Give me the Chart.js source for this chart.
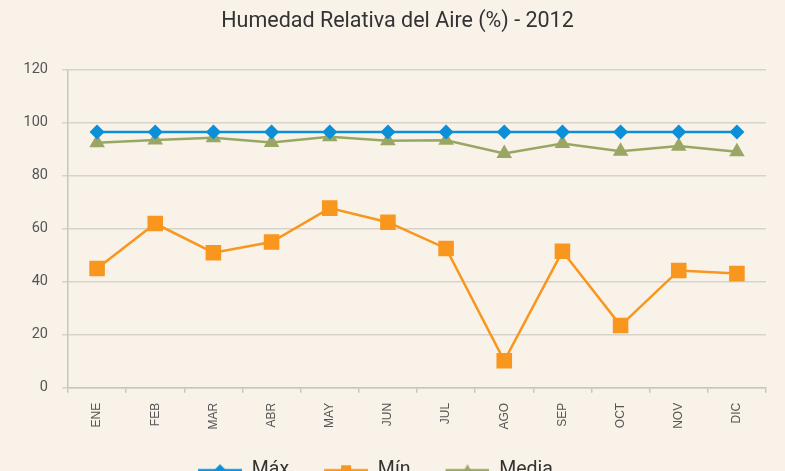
<!DOCTYPE html>
<html>
<head>
<meta charset="utf-8">
<script src="https://cdn.jsdelivr.net/npm/chart.js@4"></script>
<style>
  html, body { margin: 0; padding: 0; background: #f9f2e8; overflow: hidden; }
  #wrap { width: 785px; height: 490px; }
</style>
</head>
<body>
<div id="wrap"><canvas id="humedadChart"></canvas></div>
<script>
const meses = ["ENE", "FEB", "MAR", "ABR", "MAY", "JUN", "JUL", "AGO", "SEP", "OCT", "NOV", "DIC"];

const maxima = [96.5, 96.5, 96.5, 96.5, 96.5, 96.5, 96.5, 96.5, 96.5, 96.5, 96.5, 96.5];
const minima = [45, 62, 51, 55, 67.8, 62.5, 52.6, 10.2, 51.5, 23.5, 44.3, 43.1];
const media = [92.5, 93.5, 94.4, 92.6, 94.7, 93.2, 93.4, 88.4, 92.2, 89.3, 91.2, 89.1];

const azul = "#0a8fd8";
const naranja = "#f8961e";
const verde = "#9aa663";

// little "line + marker" pictures for the legend (transparent strip on the left = gap between items)
function legendIcon(color, style) {
    const c = document.createElement("canvas");
    c.width = 58;
    c.height = 16;
    const ctx = c.getContext("2d");
    ctx.strokeStyle = color;
    ctx.lineWidth = 2.5;
    ctx.beginPath();
    ctx.moveTo(14, 8);
    ctx.lineTo(58, 8);
    ctx.stroke();
    ctx.fillStyle = color;
    ctx.beginPath();
    if (style === "rectRot") {
        ctx.moveTo(36, 2); ctx.lineTo(42, 8); ctx.lineTo(36, 14); ctx.lineTo(30, 8);
    } else if (style === "rect") {
        ctx.rect(31, 3, 10, 10);
    } else {
        ctx.moveTo(36, 2); ctx.lineTo(42, 13); ctx.lineTo(30, 13);
    }
    ctx.closePath();
    ctx.fill();
    return c;
}

const icons = [
    legendIcon(azul, "rectRot"),
    legendIcon(naranja, "rect"),
    legendIcon(verde, "triangle")
];

// in the original the title sits a bit right, the legend a bit left
const nudgeBoxes = {
    id: "nudgeBoxes",
    afterLayout(chart) {
        chart.titleBlock.left += 9;
        chart.titleBlock.right += 9;
        chart.legend.left -= 20;
        chart.legend.right -= 20;
    }
};

const ctx = document.getElementById("humedadChart").getContext("2d");

new Chart(ctx, {
    type: "line",
    data: {
        labels: meses,
        datasets: [
            {
                label: "Máx",
                data: maxima,
                borderColor: azul,
                backgroundColor: azul,
                borderWidth: 2.5,
                pointStyle: "rectRot",
                pointRadius: 7.5,
                pointHoverRadius: 7.5,
                pointBorderWidth: 0
            },
            {
                label: "Mín",
                data: minima,
                borderColor: naranja,
                backgroundColor: naranja,
                borderWidth: 2.5,
                pointStyle: "rect",
                pointRadius: 11,
                pointHoverRadius: 11,
                pointBorderWidth: 0
            },
            {
                label: "Media",
                data: media,
                borderColor: verde,
                backgroundColor: verde,
                borderWidth: 2.5,
                pointStyle: "triangle",
                pointRadius: 9,
                pointHoverRadius: 9,
                pointBorderWidth: 0
            }
        ]
    },
    options: {
        responsive: true,
        maintainAspectRatio: false,
        animation: false,
        layout: {
            padding: { left: 11, right: 19, top: 0, bottom: 0 }
        },
        plugins: {
            title: {
                display: true,
                text: "Humedad Relativa del Aire (%) - 2012",
                color: "#333333",
                font: { family: "Roboto", size: 21.5, weight: "normal" },
                padding: { top: 9, bottom: 35 }
            },
            legend: {
                position: "bottom",
                labels: {
                    usePointStyle: true,
                    pointStyleWidth: 58,
                    color: "#333333",
                    font: { family: "Roboto", size: 19.5 },
                    padding: 21,
                    generateLabels: (chart) => {
                        const items = Chart.defaults.plugins.legend.labels.generateLabels(chart);
                        items.forEach((item, i) => { item.pointStyle = icons[i]; });
                        return items;
                    }
                }
            },
            tooltip: { enabled: false }
        },
        scales: {
            x: {
                offset: true,
                border: { color: "#c9c6c1", width: 1.5 },
                grid: {
                    offset: true,
                    drawOnChartArea: false,
                    drawTicks: true,
                    tickLength: 5,
                    color: "#c9c6c1",
                    lineWidth: 1.5
                },
                ticks: {
                    minRotation: 90,
                    maxRotation: 90,
                    padding: 10,
                    color: "#555555",
                    font: { family: "Liberation Sans", size: 12 }
                }
            },
            y: {
                min: 0,
                max: 120,
                border: { color: "#c9c6c1", width: 1.5 },
                grid: {
                    color: "#d6d2cc",
                    lineWidth: 1.5,
                    tickLength: 6
                },
                ticks: {
                    stepSize: 20,
                    padding: 14,
                    color: "#555555",
                    font: { family: "Roboto", size: 14.5 }
                },
                afterFit: (scale) => { scale.width = 57; }
            }
        }
    },
    plugins: [nudgeBoxes]
});
</script>
</body>
</html>
